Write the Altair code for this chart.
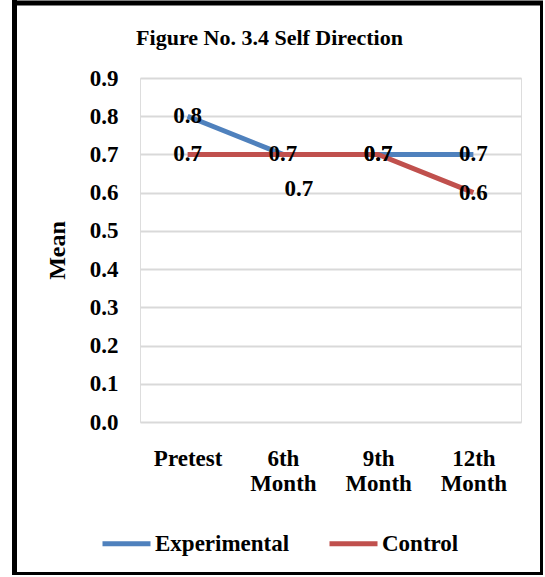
import altair as alt
import pandas as pd

months = ["Pretest", "6th Month", "9th Month", "12th Month"]
experimental = [0.8, 0.7, 0.7, 0.7]
control = [0.7, 0.7, 0.7, 0.6]
series = ["Experimental", "Control"]
colors = ["#4F81BD", "#C0504D"]
y_ticks = [0.0, 0.1, 0.2, 0.3, 0.4, 0.5, 0.6, 0.7, 0.8, 0.9]

rows = []
for s, vals in zip(series, [experimental, control]):
    for m, v in zip(months, vals):
        rows.append({"Month": m, "Series": s, "Mean": v})
df = pd.DataFrame(rows)

FONT = "Liberation Serif"
FS = 23

x_enc = alt.X(
    "Month:N",
    sort=months,
    scale=alt.Scale(domain=months, type="point", padding=0.5),
    axis=alt.Axis(
        title=None,
        labelExpr="split(datum.label, ' ')",
        labelFont=FONT,
        labelFontSize=FS,
        labelFontWeight="bold",
        labelColor="black",
        labelAngle=0,
        labelBaseline="top",
        labelLineHeight=25,
        labelPadding=25,
        ticks=False,
        tickSize=0,
        domain=False,
        grid=False,
    ),
)
y_enc = alt.Y(
    "Mean:Q",
    scale=alt.Scale(domain=[0, 0.9], nice=False, zero=True),
    axis=alt.Axis(
        title="Mean",
        titleFont=FONT,
        titleFontSize=24,
        titleFontWeight="bold",
        titleColor="black",
        titlePadding=20,
        values=y_ticks,
        tickCount=10,
        format=".1f",
        labelOverlap=False,
        labelFont=FONT,
        labelFontSize=FS,
        labelFontWeight="bold",
        labelColor="black",
        labelPadding=22,
        ticks=False,
        tickSize=0,
        domain=False,
        grid=True,
        gridColor="#D9D9D9",
        gridWidth=2,
    ),
)
color_enc = alt.Color(
    "Series:N",
    scale=alt.Scale(domain=series, range=colors),
    legend=alt.Legend(
        title=None,
        orient="none",
        legendX=-40,
        legendY=439,
        direction="horizontal",
        symbolType="stroke",
        symbolSize=2304,
        symbolStrokeWidth=5,
        labelFont=FONT,
        labelFontSize=FS,
        labelFontWeight="bold",
        labelColor="black",
        labelOffset=2,
        columnPadding=29,
    ),
)

base = alt.Chart(df)

line_exp = base.transform_filter(alt.datum.Series == "Experimental").mark_line(strokeWidth=5).encode(
    x=x_enc, y=y_enc, color=color_enc
)
line_ctl = base.transform_filter(alt.datum.Series == "Control").mark_line(strokeWidth=5).encode(
    x=x_enc, y=y_enc, color=color_enc
)

lab_common = dict(font=FONT, fontSize=FS, fontWeight="bold", color="black", align="center", baseline="middle")
labels_main = base.transform_filter(
    (alt.datum.Series == "Experimental") | (alt.datum.Month != "6th Month")
).mark_text(**lab_common).encode(x=x_enc, y=y_enc, text=alt.Text("Mean:Q", format=".1f"))
labels_shift = base.transform_filter(
    (alt.datum.Series == "Control") & (alt.datum.Month == "6th Month")
).mark_text(dx=16, dy=35, **lab_common).encode(x=x_enc, y=y_enc, text=alt.Text("Mean:Q", format=".1f"))

one = alt.Data(values=[{"k": 1}])
frame = alt.Chart(one).mark_rect(filled=False, stroke="black", strokeWidth=3).encode(
    x=alt.value(-126), x2=alt.value(401.5), y=alt.value(-75), y2=alt.value(495.5)
)
frame_left = alt.Chart(one).mark_rule(stroke="black", strokeWidth=5).encode(
    x=alt.value(-125.5), y=alt.value(-78), y2=alt.value(497)
)
frame_top = alt.Chart(one).mark_rule(stroke="black", strokeWidth=5).encode(
    y=alt.value(-75), x=alt.value(-128), x2=alt.value(403)
)

chart = alt.layer(line_exp, line_ctl, labels_main, labels_shift, frame, frame_left, frame_top).properties(
    width=381,
    height=344,
    title=alt.TitleParams(
        "Figure No. 3.4 Self Direction",
        font=FONT,
        fontSize=22,
        fontWeight="bold",
        color="black",
        anchor="middle",
        baseline="alphabetic",
        offset=0,
        dx=-61,
        dy=69,
    ),
    autosize=alt.AutoSizeParams(type="none"),
    padding={"left": 140, "top": 78, "right": 24, "bottom": 155},
).configure_view(stroke=None).configure(
    background="white", font=FONT
).configure_legend(
    labelFont=FONT, labelFontSize=FS, labelFontWeight="bold", labelColor="black"
).configure_text(font=FONT)

chart.save("out.html", embed_options={"renderer": "svg", "actions": False})
